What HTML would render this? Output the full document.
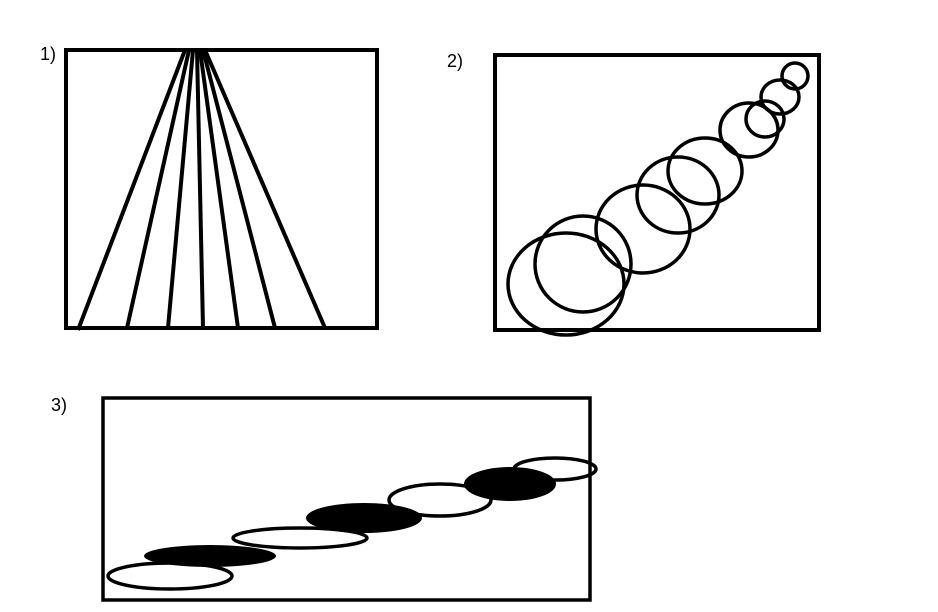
<!DOCTYPE html>
<html><head><style>
body{margin:0;background:#fff;}
svg{display:block}
text{font-family:"Liberation Sans",sans-serif;font-size:18px;fill:#000}
</style></head><body>
<svg width="938" height="612" viewBox="0 0 938 612">
<rect width="938" height="612" fill="#fff"/>
<text x="40" y="60">1)</text>
<text x="447" y="67">2)</text>
<text x="51" y="411">3)</text>
<g fill="none" stroke="#000" stroke-width="4">
<rect x="66" y="50" width="311" height="278"/>
<line x1="185" y1="50" x2="78" y2="330"/>
<line x1="189" y1="50" x2="127" y2="328"/>
<line x1="193" y1="50" x2="168" y2="328"/>
<line x1="197" y1="50" x2="203" y2="328"/>
<line x1="200" y1="50" x2="238" y2="328"/>
<line x1="203" y1="50" x2="275" y2="328"/>
<line x1="205" y1="50" x2="325" y2="328"/>
<rect x="495" y="55" width="324" height="275"/>
</g>
<g fill="none" stroke="#000" stroke-width="3.5">
<ellipse cx="566" cy="284" rx="58" ry="51"/>
<ellipse cx="583" cy="264" rx="48" ry="48"/>
<ellipse cx="643" cy="229" rx="47" ry="44"/>
<ellipse cx="678" cy="195" rx="41" ry="38"/>
<ellipse cx="705" cy="171" rx="37" ry="33"/>
<ellipse cx="749" cy="130" rx="29" ry="27"/>
<ellipse cx="765" cy="119" rx="19" ry="18"/>
<ellipse cx="780" cy="97" rx="19" ry="17"/>
<ellipse cx="795" cy="76" rx="13" ry="13"/>
</g>
<g fill="none" stroke="#000" stroke-width="3.5">
<rect x="103" y="398" width="487" height="202"/>
<ellipse cx="170" cy="576" rx="62" ry="13"/>
<ellipse cx="300" cy="538" rx="67" ry="10"/>
<ellipse cx="440" cy="500" rx="51" ry="16"/>
<ellipse cx="555" cy="469" rx="41" ry="11"/>
</g>
<g fill="#000">
<ellipse cx="210" cy="556" rx="66" ry="11"/>
<ellipse cx="364" cy="518" rx="58" ry="15"/>
<ellipse cx="510" cy="484" rx="46" ry="17"/>
</g>
</svg>
</body></html>
